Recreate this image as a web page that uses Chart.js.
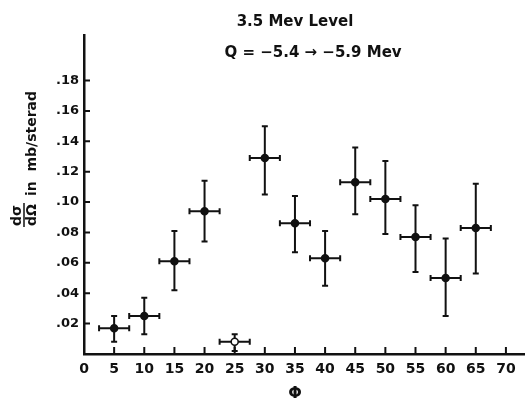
<!DOCTYPE html>
<html>
<head>
<meta charset="utf-8">
<script src="https://cdn.jsdelivr.net/npm/chart.js@4"></script>
<style>
  html, body { margin: 0; padding: 0; background: #fff; }
  #wrap { width: 529px; height: 402px; position: relative; }
</style>
</head>
<body>
<div id="wrap"><canvas id="scatterChart"></canvas></div>
<script>
// angle phi (deg) and cross section d(sigma)/d(Omega) in mb/sterad
var angles = [5, 10, 15, 20, 25, 30, 35, 40, 45, 50, 55, 60, 65];
var crossSec = [0.017, 0.025, 0.061, 0.094, 0.008, 0.129, 0.086, 0.063, 0.113, 0.102, 0.077, 0.050, 0.083];
var errLow = [0.008, 0.013, 0.042, 0.074, 0.002, 0.105, 0.067, 0.045, 0.092, 0.079, 0.054, 0.025, 0.053];
var errHigh = [0.025, 0.037, 0.081, 0.114, 0.013, 0.150, 0.104, 0.081, 0.136, 0.127, 0.098, 0.076, 0.112];
var angleErr = 2.5;
var openPoints = [25]; // drawn as hollow marker

var xTicks = [5, 10, 15, 20, 25, 30, 35, 40, 45, 50, 55, 60, 65, 70];
var yTicks = [0.02, 0.04, 0.06, 0.08, 0.10, 0.12, 0.14, 0.16, 0.18];

var titleLine1 = '3.5 Mev Level';
var titleLine2 = 'Q = \u22125.4 \u2192 \u22125.9 Mev';

var points = [];
for (var i = 0; i < angles.length; i++) {
  points.push({ x: angles[i], y: crossSec[i] });
}

var ink = '#111';

// error bars, inner tick marks and the hand lettered texts
var decorPlugin = {
  id: 'decor',
  beforeDatasetsDraw: function (chart) {
    var ctx = chart.ctx;
    var xs = chart.scales.x, ys = chart.scales.y;
    ctx.save();
    ctx.strokeStyle = ink;
    ctx.lineWidth = 2;
    for (var i = 0; i < angles.length; i++) {
      var px = xs.getPixelForValue(angles[i]);
      var py = ys.getPixelForValue(crossSec[i]);
      var yTop = ys.getPixelForValue(errHigh[i]);
      var yBot = ys.getPixelForValue(errLow[i]);
      var xL = xs.getPixelForValue(angles[i] - angleErr);
      var xR = xs.getPixelForValue(angles[i] + angleErr);
      ctx.beginPath();
      ctx.moveTo(px, yTop); ctx.lineTo(px, yBot);
      ctx.moveTo(px - 3, yTop); ctx.lineTo(px + 3, yTop);
      ctx.moveTo(px - 3, yBot); ctx.lineTo(px + 3, yBot);
      ctx.moveTo(xL, py); ctx.lineTo(xR, py);
      ctx.moveTo(xL, py - 3); ctx.lineTo(xL, py + 3);
      ctx.moveTo(xR, py - 3); ctx.lineTo(xR, py + 3);
      ctx.stroke();
    }
    // tick marks pointing into the plot
    var area = chart.chartArea;
    ctx.beginPath();
    xTicks.forEach(function (t) {
      var p = xs.getPixelForValue(t);
      ctx.moveTo(p, area.bottom); ctx.lineTo(p, area.bottom - 7);
    });
    yTicks.forEach(function (t) {
      var p = ys.getPixelForValue(t);
      ctx.moveTo(area.left, p); ctx.lineTo(area.left + 6, p);
    });
    ctx.stroke();
    ctx.restore();
  },
  afterDraw: function (chart) {
    var ctx = chart.ctx;
    ctx.save();
    ctx.fillStyle = ink;
    ctx.textAlign = 'center';
    ctx.textBaseline = 'middle';
    ctx.font = 'bold 15px "DejaVu Sans"';
    ctx.fillText(titleLine1, 295, 22);
    ctx.fillText(titleLine2, 313, 53);

    // x axis title
    ctx.font = 'bold 16px "DejaVu Sans"';
    ctx.fillText('\u03A6', 295, 394);

    // y axis title, rotated: d sigma / d Omega  in mb/sterad
    ctx.translate(32, 226);
    ctx.rotate(-Math.PI / 2);
    ctx.textAlign = 'left';
    ctx.font = 'bold 14px "DejaVu Sans"';
    var fw = ctx.measureText('d\u03A9').width;
    ctx.fillText('d\u03C3', 0, -15);
    ctx.fillText('d\u03A9', 0, 0);
    ctx.lineWidth = 1.5;
    ctx.strokeStyle = ink;
    ctx.beginPath();
    ctx.moveTo(-1, -8); ctx.lineTo(fw + 1, -8);
    ctx.stroke();
    ctx.font = 'bold 14px "DejaVu Sans"';
    ctx.fillText('in  mb/sterad', fw + 8, 0);
    ctx.restore();
  }
};

var ctxChart = document.getElementById('scatterChart').getContext('2d');
var chart = new Chart(ctxChart, {
  type: 'scatter',
  data: {
    datasets: [{
      label: 'd\u03C3/d\u03A9',
      data: points,
      pointRadius: 3.5,
      pointHoverRadius: 3.5,
      pointBorderWidth: 1.5,
      pointBorderColor: ink,
      pointBackgroundColor: angles.map(function (a) {
        return openPoints.indexOf(a) >= 0 ? '#fff' : ink;
      })
    }]
  },
  options: {
    responsive: true,
    maintainAspectRatio: false,
    animation: false,
    layout: { padding: { top: 35, right: 0, left: 0, bottom: 0 } },
    plugins: {
      legend: { display: false },
      tooltip: { enabled: false }
    },
    scales: {
      x: {
        type: 'linear',
        min: 0,
        max: 73,
        grid: { display: false, drawTicks: false },
        border: { display: true, color: ink, width: 2.5 },
        ticks: {
          stepSize: 5,
          includeBounds: false,
          padding: 7,
          color: ink,
          font: { family: 'DejaVu Sans', size: 14, weight: 'bold' },
          maxRotation: 0,
          autoSkip: false
        },
        afterFit: function (scale) { scale.height = 48; }
      },
      y: {
        min: 0,
        max: 0.21,
        grid: { display: false, drawTicks: false },
        border: { display: true, color: ink, width: 2.5 },
        ticks: {
          stepSize: 0.02,
          includeBounds: false,
          padding: 5,
          color: ink,
          font: { family: 'DejaVu Sans', size: 13, weight: 'bold' },
          callback: function (v) {
            var r = Math.round(v * 100) / 100;
            if (r <= 0 || r > 0.185) return '';
            return r.toFixed(2).slice(1);
          }
        },
        afterFit: function (scale) { scale.width = 84; }
      }
    }
  },
  plugins: [decorPlugin]
});
</script>
</body>
</html>
